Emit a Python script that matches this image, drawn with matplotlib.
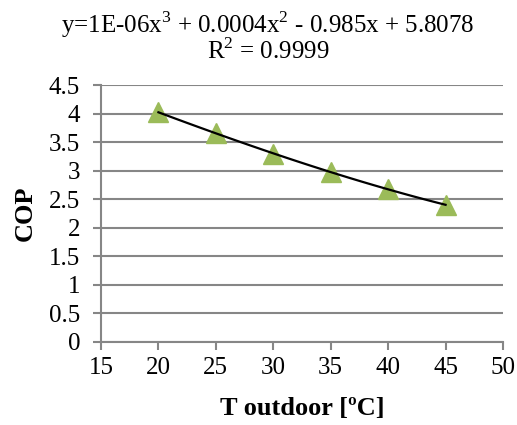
import matplotlib
matplotlib.use("Agg")
import matplotlib.pyplot as plt
import numpy as np

plt.rcParams['font.family'] = ['Liberation Serif', 'DejaVu Serif']
plt.rcParams['mathtext.fontset'] = 'custom'
plt.rcParams['mathtext.rm'] = 'Liberation Serif'

# data
t_outdoor = [20, 25, 30, 35, 40, 45]
cop = [4.02, 3.66, 3.30, 2.97, 2.68, 2.40]
x_ticks = [15, 20, 25, 30, 35, 40, 45, 50]
y_ticks = [0, 0.5, 1, 1.5, 2, 2.5, 3, 3.5, 4, 4.5]
y_tick_labels = ['0', '0.5', '1', '1.5', '2', '2.5', '3', '3.5', '4', '4.5']
eq_text = "y=1E-06x$^3$ + 0.0004x$^2$ - 0.985x + 5.8078"
r2_text = "R$^2$ = 0.9999"

grey = '#868686'

fig = plt.figure(figsize=(5.17, 4.25), dpi=100)
ax = fig.add_axes([101/517, 1 - 342/425, 402/517, 257/425])

# cubic trendline through the points
coef = np.polyfit(t_outdoor, cop, 3)
xs = np.linspace(min(t_outdoor), max(t_outdoor), 100)
ax.plot(xs, np.polyval(coef, xs), color='black', lw=1.6, zorder=3)

ax.plot(t_outdoor, cop, linestyle='none', marker='^', ms=14,
        color='#9BBB59', mec='#9BBB59', zorder=2)

ax.set_xlim(15, 50)
ax.set_ylim(0, 4.5)
ax.set_xticks(x_ticks)
ax.set_yticks(y_ticks)
ax.set_yticklabels(y_tick_labels)
ax.grid(axis='y', color=grey, lw=1.5)
ax.set_axisbelow(True)

for s in ['top', 'right']:
    ax.spines[s].set_visible(False)
for s in ['left', 'bottom']:
    ax.spines[s].set_color(grey)
    ax.spines[s].set_linewidth(1.5)
ax.tick_params(axis='both', direction='out', length=6, width=1.5,
               color=grey, labelsize=18)
ax.tick_params(axis='y', pad=9)
ax.tick_params(axis='x', pad=5)

ax.set_xlabel("T outdoor [ºC]", fontsize=19, fontweight='bold', labelpad=13)
ax.set_ylabel("COP", fontsize=19, fontweight='bold', labelpad=9)

# trendline equation as the chart title, two lines
fig.text(268/517, 1 - 9/425, eq_text + "\n" + r2_text, ha='center', va='top',
         multialignment='center', fontsize=18, linespacing=0.95)

fig.savefig("out.png", dpi=100)
